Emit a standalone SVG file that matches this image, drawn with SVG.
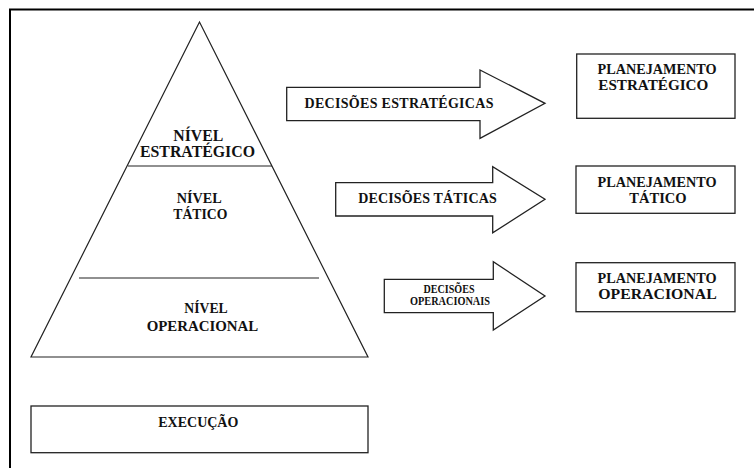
<svg xmlns="http://www.w3.org/2000/svg" width="754" height="468" viewBox="0 0 754 468">
<style>
.t{font-family:"Liberation Serif","Times New Roman","DejaVu Serif",serif;font-weight:bold;fill:#111;text-anchor:middle}
.s{fill:#fff;stroke:#222;stroke-width:1.3}
.l{stroke:#222;stroke-width:1.2;fill:none}
</style>
<rect width="754" height="468" fill="#fff"/>
<g id="frame">
<line x1="9" y1="9.5" x2="754" y2="9.5" stroke="#000" stroke-width="2"/>
<line x1="10" y1="9" x2="10" y2="468" stroke="#000" stroke-width="2"/>
</g>
<g id="pyramid">
<polygon class="l" points="199.5,22 31,357 368,357"/>
<line class="l" x1="128" y1="166" x2="272" y2="166"/>
<line class="l" x1="79" y1="278" x2="319" y2="278"/>
</g>
<g id="nivel-estrategico">
<text class="t" x="198.3" y="140.7" font-size="16" textLength="50" lengthAdjust="spacingAndGlyphs">NÍVEL</text>
<text class="t" x="197.5" y="157" font-size="16" textLength="115" lengthAdjust="spacingAndGlyphs">ESTRATÉGICO</text>
</g>
<g id="nivel-tatico">
<text class="t" x="199.2" y="203.3" font-size="14.5" textLength="45" lengthAdjust="spacingAndGlyphs">NÍVEL</text>
<text class="t" x="200.3" y="219.3" font-size="14.5" textLength="54" lengthAdjust="spacingAndGlyphs">TÁTICO</text>
</g>
<g id="nivel-operacional">
<text class="t" x="206" y="313.3" font-size="14.5" textLength="43.4" lengthAdjust="spacingAndGlyphs">NÍVEL</text>
<text class="t" x="202.5" y="330.7" font-size="14.5" textLength="111.6" lengthAdjust="spacingAndGlyphs">OPERACIONAL</text>
</g>
<g id="execucao">
<rect class="s" x="31" y="406" width="337" height="46.7"/>
<text class="t" x="198.3" y="426.7" font-size="14" textLength="80" lengthAdjust="spacingAndGlyphs">EXECUÇÃO</text>
</g>
<g id="connectors">
<g id="arrow-estrategicas">
<polygon class="s" points="286.7,87.3 480,87.3 480,70 545,103.3 480,138.3 480,120.7 286.7,120.7"/>
<text class="t" x="399" y="107.5" font-size="14" textLength="189" lengthAdjust="spacing">DECISÕES ESTRATÉGICAS</text>
</g>
<g id="arrow-taticas">
<polygon class="s" points="335.7,182.7 492.7,182.7 492.7,166.7 545,199.3 492.7,232.7 492.7,216 335.7,216"/>
<text class="t" x="427.5" y="203" font-size="14" textLength="138.4" lengthAdjust="spacing">DECISÕES TÁTICAS</text>
</g>
<g id="arrow-operacionais">
<polygon class="s" points="384.3,279.3 493.3,279.3 493.3,261.7 545,296 493.3,330 493.3,312.7 384.3,312.7"/>
<text class="t" x="449" y="292.5" font-size="11.5" textLength="51" lengthAdjust="spacingAndGlyphs">DECISÕES</text>
<text class="t" x="450" y="305" font-size="11.5" textLength="80" lengthAdjust="spacingAndGlyphs">OPERACIONAIS</text>
</g>
</g>
<g id="planejamento-estrategico">
<rect class="s" x="576.7" y="54" width="158.3" height="64.3"/>
<text class="t" x="657" y="74" font-size="14" textLength="119" lengthAdjust="spacingAndGlyphs">PLANEJAMENTO</text>
<text class="t" x="653.3" y="89.5" font-size="14" textLength="110" lengthAdjust="spacingAndGlyphs">ESTRATÉGICO</text>
</g>
<g id="planejamento-tatico">
<rect class="s" x="576" y="166" width="159" height="47.3"/>
<text class="t" x="657" y="187" font-size="14" textLength="119" lengthAdjust="spacingAndGlyphs">PLANEJAMENTO</text>
<text class="t" x="658" y="202.5" font-size="14" textLength="57.3" lengthAdjust="spacingAndGlyphs">TÁTICO</text>
</g>
<g id="planejamento-operacional">
<rect class="s" x="576" y="262.7" width="159" height="49"/>
<text class="t" x="657" y="283" font-size="14" textLength="119" lengthAdjust="spacingAndGlyphs">PLANEJAMENTO</text>
<text class="t" x="657.5" y="298.5" font-size="14" textLength="118.4" lengthAdjust="spacingAndGlyphs">OPERACIONAL</text>
</g>
</svg>
